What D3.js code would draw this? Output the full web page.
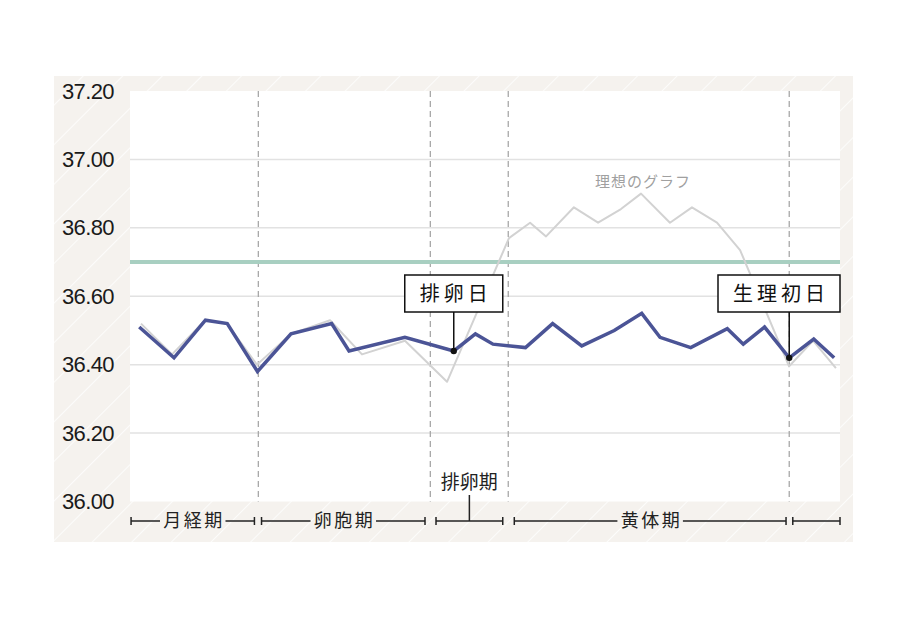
<!DOCTYPE html>
<html>
<head>
<meta charset="utf-8">
<script src="https://cdn.jsdelivr.net/npm/d3@7"></script>
<style>
  body { margin: 0; background: #fff; }
  svg { display: block; }
</style>
</head>
<body>
<div id="chart"></div>
<script>
// measured basal body temperature (blue line), day position along the cycle
var measuredDays  = [0.52, 2.48, 4.25, 5.48, 7.18, 9.07, 11.36, 12.34, 15.49, 18.24, 19.46, 20.45, 22.28,
                     23.81, 25.45, 27.28, 28.83, 29.86, 31.59, 33.65, 34.55, 35.75, 37.14, 38.52, 39.67];
var measuredTemps = [36.51, 36.42, 36.53, 36.52, 36.38, 36.49, 36.52, 36.44, 36.48, 36.44, 36.49, 36.46, 36.45,
                     36.52, 36.455, 36.50, 36.55, 36.48, 36.45, 36.505, 36.46, 36.51, 36.42, 36.475, 36.42];

// ideal curve (grey line)
var idealDays  = [0.62, 2.37, 4.23, 5.46, 7.15, 9.07, 11.27, 13.07, 15.49, 17.86, 21.35, 22.54, 23.44,
                  25.01, 26.37, 27.66, 28.79, 30.42, 31.66, 33.07, 34.37, 37.13, 38.48, 39.77];
var idealTemps = [36.52, 36.43, 36.53, 36.52, 36.40, 36.49, 36.53, 36.43, 36.47, 36.35, 36.77, 36.815, 36.775,
                  36.86, 36.815, 36.855, 36.90, 36.815, 36.86, 36.815, 36.735, 36.395, 36.47, 36.39];

var yTicks = [36.00, 36.20, 36.40, 36.60, 36.80, 37.00, 37.20];
var coverTemp = 36.70;

// dashed phase boundaries
var phaseBounds = [7.23, 16.92, 21.31, 37.14];

// phase brackets under the plot
var phaseNames = ["月経期", "卵胞期", "排卵期", "黄体期", ""];
var phaseStart = [0.06, 7.41, 17.24, 21.65, 37.34];
var phaseEnd   = [7.01, 16.62, 21.00, 36.96, 40.00];

// callouts on measured points
var calloutLabels = ["排卵日", "生理初日"];
var calloutIndex  = [9, 22];

var W = 909, H = 619;
var plot = {left: 130, right: 840, top: 91, bottom: 501.5};

var svg = d3.select("#chart").append("svg")
    .attr("width", W)
    .attr("height", H);

var defs = svg.append("defs");
var pat = defs.append("pattern")
    .attr("id", "hatch")
    .attr("patternUnits", "userSpaceOnUse")
    .attr("width", 28)
    .attr("height", 28)
    .attr("patternTransform", "rotate(45)");
pat.append("rect").attr("width", 28).attr("height", 28).attr("fill", "#f5f2ee");
pat.append("line").attr("x1", 0).attr("y1", 0).attr("x2", 0).attr("y2", 28)
    .attr("stroke", "#fff").attr("stroke-width", 1.6);

// background panel
svg.append("rect")
    .attr("x", 54).attr("y", 76)
    .attr("width", 799).attr("height", 466)
    .attr("fill", "url(#hatch)");

svg.append("rect")
    .attr("x", plot.left).attr("y", plot.top)
    .attr("width", plot.right - plot.left).attr("height", plot.bottom - plot.top)
    .attr("fill", "#fff");

var x = d3.scaleLinear().domain([0, 40]).range([plot.left, plot.right]);
var y = d3.scaleLinear().domain([36.0, 37.2]).range([plot.bottom, plot.top]);

// grid
svg.selectAll(".grid")
    .data(yTicks.filter(function(d) { return d > 36.0 && d < 37.2; }))
    .enter().append("line")
    .attr("class", "grid")
    .attr("x1", plot.left).attr("x2", plot.right)
    .attr("y1", function(d) { return y(d); })
    .attr("y2", function(d) { return y(d); })
    .attr("stroke", "#e2e2e2")
    .attr("stroke-width", 1.5);

// y labels
var yAxis = d3.axisLeft(y).tickValues(yTicks).tickFormat(d3.format(".2f")).tickSize(0).tickPadding(16);
var gy = svg.append("g")
    .attr("transform", "translate(" + plot.left + ",0)")
    .call(yAxis);
gy.select(".domain").remove();
gy.selectAll("text")
    .attr("font-family", "'Liberation Sans', Arial, sans-serif")
    .attr("font-size", 22)
    .attr("letter-spacing", -0.6)
    .attr("fill", "#1a1a1a");

// phase boundaries
svg.selectAll(".bound")
    .data(phaseBounds)
    .enter().append("line")
    .attr("class", "bound")
    .attr("x1", function(d) { return x(d); })
    .attr("x2", function(d) { return x(d); })
    .attr("y1", plot.top).attr("y2", plot.bottom)
    .attr("stroke", "#a8a8a8")
    .attr("stroke-width", 1.3)
    .attr("stroke-dasharray", "6,4");

// cover line
svg.append("line")
    .attr("x1", plot.left).attr("x2", plot.right)
    .attr("y1", y(coverTemp)).attr("y2", y(coverTemp))
    .attr("stroke", "#a8cfc1")
    .attr("stroke-width", 4);

var line = d3.line()
    .x(function(d) { return x(d[0]); })
    .y(function(d) { return y(d[1]); });

// ideal curve
svg.append("path")
    .datum(d3.zip(idealDays, idealTemps))
    .attr("d", line)
    .attr("fill", "none")
    .attr("stroke", "#d2d2d2")
    .attr("stroke-width", 2)
    .attr("stroke-linejoin", "round");

svg.append("text")
    .attr("x", x(28.9)).attr("y", 187)
    .attr("text-anchor", "middle")
    .attr("font-family", "'Noto Sans CJK JP', sans-serif")
    .attr("font-size", 15)
    .attr("letter-spacing", 1)
    .attr("fill", "#a0a0a0")
    .text("理想のグラフ");

// measured line
svg.append("path")
    .datum(d3.zip(measuredDays, measuredTemps))
    .attr("d", line)
    .attr("fill", "none")
    .attr("stroke", "#4b5496")
    .attr("stroke-width", 3.5)
    .attr("stroke-linejoin", "miter");

// callouts
var boxTop = 275, boxH = 37;
calloutIndex.forEach(function(idx, i) {
    var px = x(measuredDays[idx]), py = y(measuredTemps[idx]);
    var g = svg.append("g");
    g.append("line")
        .attr("x1", px).attr("x2", px)
        .attr("y1", boxTop + boxH).attr("y2", py)
        .attr("stroke", "#111").attr("stroke-width", 1.5);
    g.append("circle")
        .attr("cx", px).attr("cy", py).attr("r", 3.2)
        .attr("fill", "#111");
    var t = g.append("text")
        .attr("y", boxTop + boxH / 2)
        .attr("dy", "0.36em")
        .attr("font-family", "'Noto Sans CJK JP', sans-serif")
        .attr("font-size", 20)
        .attr("letter-spacing", 4)
        .attr("fill", "#111")
        .text(calloutLabels[i]);
    var tw = t.node().getComputedTextLength();
    var bw = tw + 26;
    var cx = Math.min(px, plot.right - bw / 2);
    t.attr("x", cx - tw / 2 + 2);
    g.insert("rect", "text")
        .attr("x", cx - bw / 2).attr("y", boxTop)
        .attr("width", bw).attr("height", boxH)
        .attr("fill", "#fff")
        .attr("stroke", "#111").attr("stroke-width", 1.5);
});

// phase brackets
var by = 521;
phaseNames.forEach(function(name, i) {
    var x0 = x(phaseStart[i]), x1 = x(phaseEnd[i]);
    var g = svg.append("g").attr("stroke", "#222").attr("stroke-width", 1.5);
    g.append("line").attr("x1", x0).attr("x2", x0).attr("y1", by - 4).attr("y2", by + 4);
    g.append("line").attr("x1", x1).attr("x2", x1).attr("y1", by - 4).attr("y2", by + 4);
    var mid = (x0 + x1) / 2;
    if (name && i !== 2) {
        var t = svg.append("text")
            .attr("x", mid).attr("y", by)
            .attr("dy", "0.36em")
            .attr("text-anchor", "middle")
            .attr("font-family", "'Noto Sans CJK JP', sans-serif")
            .attr("font-size", 18)
            .attr("letter-spacing", 2.5)
            .attr("fill", "#222")
            .text(name);
        var w = t.node().getComputedTextLength();
        t.attr("x", mid + 1.25);
        g.append("line").attr("x1", x0).attr("x2", mid - w / 2 - 2).attr("y1", by).attr("y2", by);
        g.append("line").attr("x1", mid + w / 2 + 2).attr("x2", x1).attr("y1", by).attr("y2", by);
    } else {
        g.append("line").attr("x1", x0).attr("x2", x1).attr("y1", by).attr("y2", by);
        if (name) {
            g.append("line").attr("x1", mid).attr("x2", mid).attr("y1", by).attr("y2", 495);
            svg.append("text")
                .attr("x", mid).attr("y", 482)
                .attr("dy", "0.36em")
                .attr("text-anchor", "middle")
                .attr("font-family", "'Noto Sans CJK JP', sans-serif")
                .attr("font-size", 19)
                .attr("fill", "#222")
                .text(name);
        }
    }
});
</script>
</body>
</html>
